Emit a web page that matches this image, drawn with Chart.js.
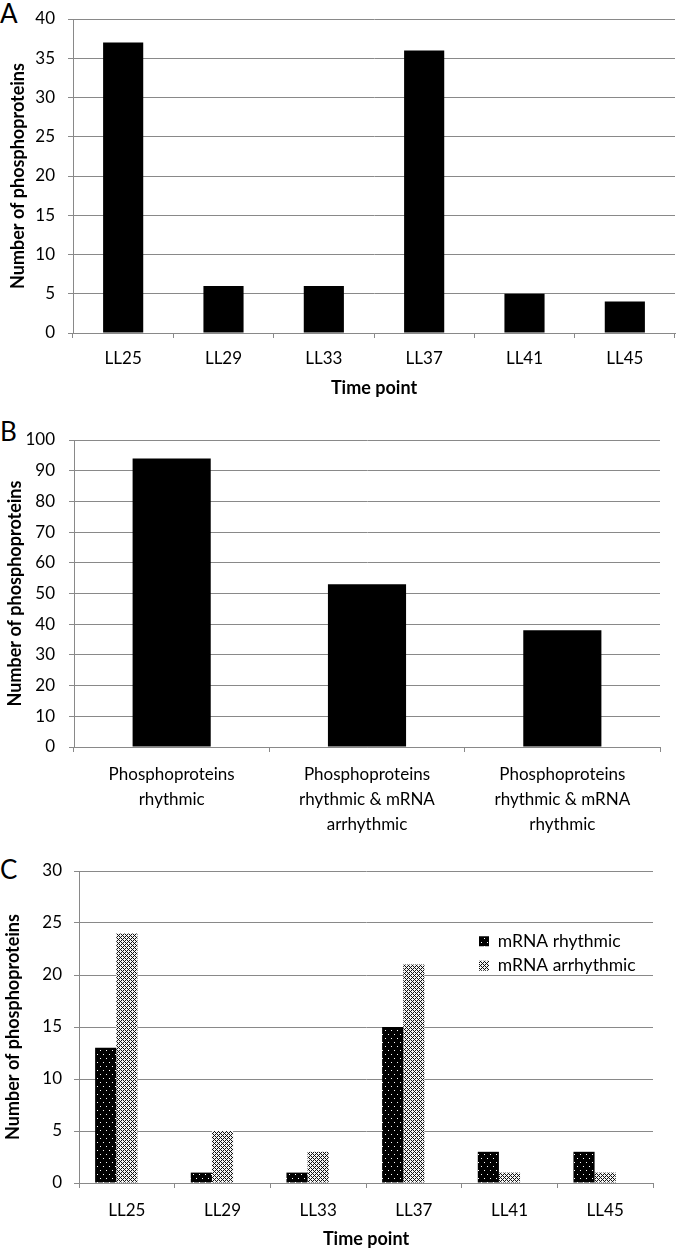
<!DOCTYPE html>
<html>
<head>
<meta charset="utf-8">
<script src="https://cdn.jsdelivr.net/npm/chart.js@4.4.1/dist/chart.umd.min.js"></script>
<style>
  html, body { margin:0; padding:0; background:#fff; }
  body { width:676px; height:1250px; position:relative; overflow:hidden; font-family: Lato, sans-serif; }
  .panel { position:absolute; left:0; width:676px; }
  .letter { position:absolute; left:0; font-family: Lato, sans-serif; font-size:26px; line-height:26px; color:#000; }
</style>
</head>
<body>
<div class="letter" style="top:0px;">A</div>
<div class="letter" style="top:418px;">B</div>
<div class="letter" style="top:856px;">C</div>
<div class="panel" style="top:0px;height:400px;"><canvas id="cA"></canvas></div>
<div class="panel" style="top:400px;height:445px;"><canvas id="cB"></canvas></div>
<div class="panel" style="top:845px;height:405px;"><canvas id="cC"></canvas></div>
<script>
// ---------- data ----------
const timePoints = ['LL25', 'LL29', 'LL33', 'LL37', 'LL41', 'LL45'];
const rhythmicPerTimePoint = [37, 6, 6, 36, 5, 4];

const groupLabels = [
  ['Phosphoproteins', 'rhythmic'],
  ['Phosphoproteins', 'rhythmic & mRNA', 'arrhythmic'],
  ['Phosphoproteins', 'rhythmic & mRNA', 'rhythmic']
];
const groupCounts = [94, 53, 38];

const mrnaRhythmic = [13, 1, 1, 15, 3, 3];
const mrnaArrhythmic = [24, 5, 3, 21, 1, 1];
const emptySeries = [null, null, null, null, null, null];

const yTitle = 'Number of phosphoproteins';
const xTitle = 'Time point';

// ---------- styles ----------
const GRID = '#898989';
Chart.defaults.font.family = 'Lato, sans-serif';
Chart.defaults.font.size = 17;
Chart.defaults.color = '#000';

function makePattern(w, h, bg, fg, pts) {
  const c = document.createElement('canvas');
  c.width = w; c.height = h;
  const g = c.getContext('2d');
  g.fillStyle = bg; g.fillRect(0, 0, w, h);
  g.fillStyle = fg;
  pts.forEach(p => g.fillRect(p[0], p[1], 1, 1));
  return g.createPattern(c, 'repeat');
}
const dotPattern = makePattern(6, 8, '#000', '#fff', [[1, 1], [4, 5]]);
const hatchPts = [];
for (let y = 0; y < 4; y++) for (let x = 0; x < 4; x++) {
  if ((x + y) % 4 === 0 || (x - y + 4) % 4 === 0) hatchPts.push([x, y]);
}
const hatchPattern = makePattern(4, 4, '#f4f4f4', '#111111', hatchPts);

function yScale(max, step, width, tickPad, titlePad) {
  return {
    min: 0, max: max,
    ticks: { stepSize: step, padding: tickPad, color: '#000', font: { size: 17 } },
    grid: { color: GRID, lineWidth: 1, drawTicks: true, tickLength: 5 },
    border: { color: GRID, width: 1 },
    title: { display: true, text: yTitle, color: '#000',
             font: { size: 18, weight: 'bold' }, padding: { top: titlePad, bottom: 0 } },
    afterFit(s) { s.width = width; s.paddingTop = 0; s.paddingBottom = 0; }
  };
}
function xScale(height, tickPad, lineH, withTitle, titlePadBottom) {
  return {
    grid: { display: true, drawOnChartArea: false, drawTicks: true, tickLength: 5, color: GRID, offset: true },
    border: { color: GRID, width: 1 },
    ticks: { padding: tickPad, color: '#000', maxRotation: 0, autoSkip: false,
             font: { size: 17, lineHeight: lineH } },
    title: { display: withTitle, text: xTitle, color: '#000',
             font: { size: 18, weight: 'bold' }, padding: { top: 0, bottom: titlePadBottom } },
    afterFit(s) { s.height = height; s.paddingLeft = 0; s.paddingRight = 0; }
  };
}
const baseOpts = (padding, scales, plugins) => ({
  responsive: true, maintainAspectRatio: false, animation: false, devicePixelRatio: 1,
  layout: { padding: padding },
  scales: scales,
  plugins: Object.assign({ tooltip: { enabled: false }, legend: { display: false } }, plugins || {})
});

// ---------- panel A ----------
new Chart(document.getElementById('cA'), {
  type: 'bar',
  data: { labels: timePoints,
    datasets: [{ label: 'Phosphoproteins', data: rhythmicPerTimePoint, backgroundColor: '#000',
                 borderWidth: 0, categoryPercentage: 1, barPercentage: 0.4 }] },
  options: baseOpts({ top: 19, right: 1, bottom: 0, left: 0 },
    { x: xScale(67, 10, 1.2, true, 1), y: yScale(40, 5, 73, 13, 7) })
});

// ---------- panel B ----------
new Chart(document.getElementById('cB'), {
  type: 'bar',
  data: { labels: groupLabels,
    datasets: [{ label: 'Phosphoproteins', data: groupCounts, backgroundColor: '#000',
                 borderWidth: 0, categoryPercentage: 1, barPercentage: 0.4 }] },
  options: baseOpts({ top: 40, right: 16, bottom: 0, left: 0 },
    { x: xScale(98, 10, 1.47, false, 0), y: yScale(100, 10, 74, 14, 4) })
});

// ---------- panel C ----------
const moveLegend = {
  id: 'moveLegend',
  afterLayout(chart) {
    const lg = chart.legend;
    if (!lg) return;
    const w = lg.width, h = lg.height;
    lg.left = 472; lg.top = 80.5;
    lg.right = lg.left + w; lg.bottom = lg.top + h;
  }
};
new Chart(document.getElementById('cC'), {
  type: 'bar',
  data: { labels: timePoints,
    datasets: [
      { label: 'mRNA rhythmic', data: mrnaRhythmic, backgroundColor: dotPattern, borderWidth: 0 },
      { label: 'mRNA arrhythmic', data: mrnaArrhythmic, backgroundColor: hatchPattern, borderWidth: 0 },
      { label: '', data: emptySeries, backgroundColor: 'rgba(0,0,0,0)', borderWidth: 0 }
    ] },
  options: Object.assign(baseOpts({ top: 26, right: 23, bottom: 0, left: 0 },
    { x: xScale(67, 12, 1.2, true, 0), y: yScale(30, 5, 79, 12, 2) },
    { legend: { display: true, position: 'chartArea', align: 'start',
        labels: { boxWidth: 10, boxHeight: 10, padding: 7, color: '#000', font: { size: 17.5 },
                  filter: (item) => item.text !== '' } } }),
    { datasets: { bar: { categoryPercentage: 0.663, barPercentage: 1 } } }),
  plugins: [moveLegend]
});
</script>
</body>
</html>
